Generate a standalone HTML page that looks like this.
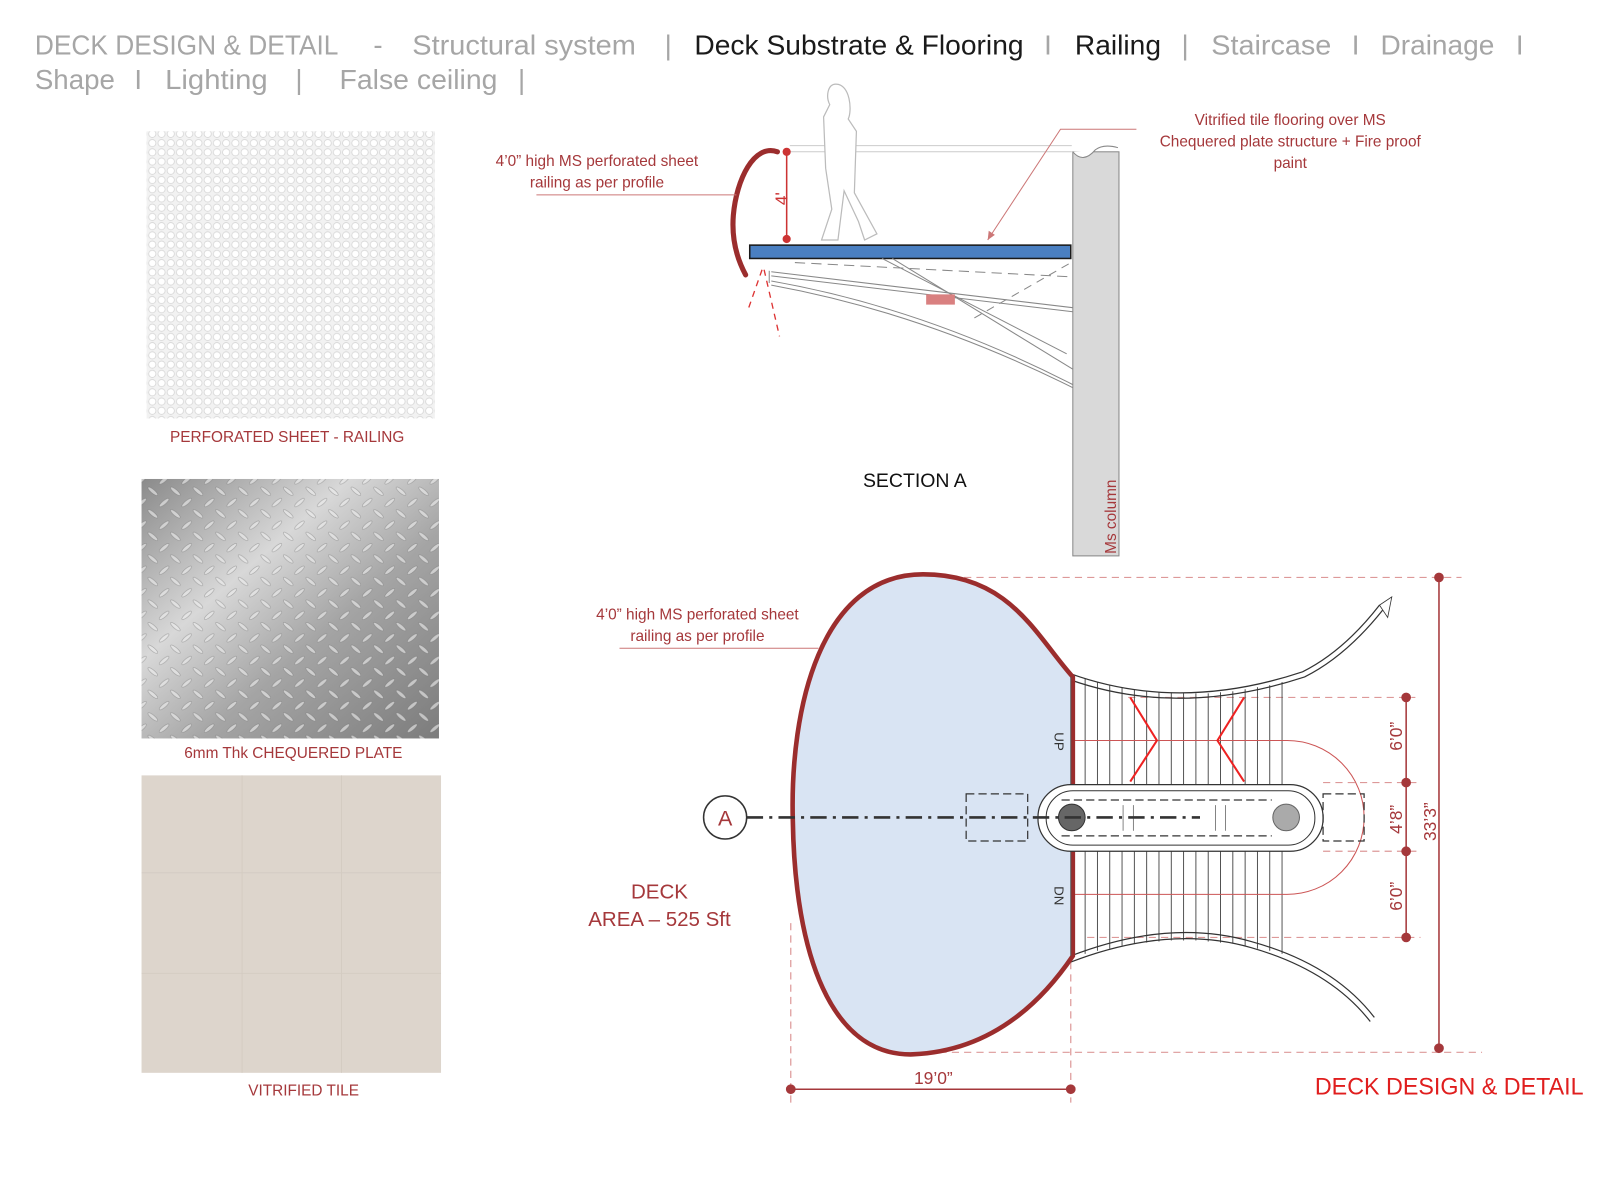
<!DOCTYPE html>
<html><head><meta charset="utf-8"><style>
html,body{margin:0;padding:0;background:#fff;}
svg{display:block;}
text{font-family:"Liberation Sans",sans-serif;}
</style></head><body>
<svg width="1600" height="1200" viewBox="0 0 1560 1170" xmlns="http://www.w3.org/2000/svg">
<defs>
<pattern id="perf" width="9" height="9" patternUnits="userSpaceOnUse">
<rect width="9" height="9" fill="#f2f2f2"/>
<circle cx="4.5" cy="4.5" r="3.5" fill="#fff" stroke="#d6d6d6" stroke-width="0.8"/>
</pattern>
<linearGradient id="steel" x1="0" y1="0" x2="1" y2="1">
<stop offset="0" stop-color="#8a8a8a"/><stop offset="0.35" stop-color="#d8d8d8"/><stop offset="0.6" stop-color="#a5a5a5"/><stop offset="1" stop-color="#7c7c7c"/>
</linearGradient>
<pattern id="cheq" width="22" height="22" patternUnits="userSpaceOnUse">
<ellipse cx="6" cy="6" rx="6" ry="1.8" transform="rotate(-40 6 6)" fill="#eee" fill-opacity="0.6" stroke="#555" stroke-opacity="0.4" stroke-width="0.6"/>
<ellipse cx="17" cy="17" rx="6" ry="1.8" transform="rotate(40 17 17)" fill="#eee" fill-opacity="0.6" stroke="#555" stroke-opacity="0.4" stroke-width="0.6"/>
</pattern>
</defs>

<!-- header -->
<g font-size="27">
<text x="34" y="53" fill="#a6a6a6" textLength="296" lengthAdjust="spacingAndGlyphs">DECK DESIGN &amp; DETAIL</text>
<text x="364" y="53" fill="#a6a6a6">-</text>
<text x="402" y="53" fill="#a6a6a6" textLength="218" lengthAdjust="spacingAndGlyphs">Structural system</text>
<text x="648" y="53" fill="#a6a6a6">|</text>
<text x="677" y="53" fill="#1a1a1a" textLength="321" lengthAdjust="spacingAndGlyphs">Deck Substrate &amp; Flooring</text>
<text x="1018" y="53" fill="#a6a6a6">I</text>
<text x="1048" y="53" fill="#1a1a1a" textLength="84" lengthAdjust="spacingAndGlyphs">Railing</text>
<text x="1152" y="53" fill="#a6a6a6">|</text>
<text x="1181" y="53" fill="#a6a6a6" textLength="117" lengthAdjust="spacingAndGlyphs">Staircase</text>
<text x="1318" y="53" fill="#a6a6a6">I</text>
<text x="1346" y="53" fill="#a6a6a6" textLength="111" lengthAdjust="spacingAndGlyphs">Drainage</text>
<text x="1478" y="53" fill="#a6a6a6">I</text>
<text x="34" y="87" fill="#a6a6a6" textLength="78" lengthAdjust="spacingAndGlyphs">Shape</text>
<text x="131" y="87" fill="#a6a6a6">I</text>
<text x="161" y="87" fill="#a6a6a6" textLength="100" lengthAdjust="spacingAndGlyphs">Lighting</text>
<text x="288" y="87" fill="#a6a6a6">|</text>
<text x="331" y="87" fill="#a6a6a6" textLength="154" lengthAdjust="spacingAndGlyphs">False ceiling</text>
<text x="505" y="87" fill="#a6a6a6">|</text>
</g>

<!-- swatches -->
<rect x="143" y="128" width="281" height="280" fill="url(#perf)"/>
<text x="280" y="431" font-size="15" fill="#a5383b" text-anchor="middle">PERFORATED SHEET - RAILING</text>
<rect x="138" y="467" width="290" height="253" fill="url(#steel)"/>
<rect x="138" y="467" width="290" height="253" fill="url(#cheq)"/>
<text x="286" y="739" font-size="15" fill="#a5383b" text-anchor="middle">6mm Thk CHEQUERED PLATE</text>
<rect x="138" y="756" width="292" height="290" fill="#ddd5cc"/>
<g stroke="#d3cbc1" stroke-width="0.8">
<line x1="236" y1="756" x2="236" y2="1046"/><line x1="333" y1="756" x2="333" y2="1046"/>
<line x1="138" y1="851" x2="430" y2="851"/><line x1="138" y1="949" x2="430" y2="949"/>
</g>
<text x="296" y="1068" font-size="15" fill="#a5383b" text-anchor="middle">VITRIFIED TILE</text>

<!-- section A -->
<g stroke="#ccc" fill="none" stroke-width="1">
<line x1="770" y1="142" x2="1045" y2="142"/><line x1="770" y1="148" x2="1045" y2="148"/>
</g>
<rect x="1046" y="148" width="45" height="394" fill="#d9d9d9" stroke="#888" stroke-width="1"/>
<path d="M1046 148 q10 12 22 -2 q8 -6 22 -2" fill="#fff" stroke="#888"/>
<text transform="translate(1088 540) rotate(-90)" font-size="15" fill="#a5383b">Ms column</text>
<path d="M815 82 c-8 0 -10 12 -6 20 l-6 12 l2 50 l6 40 l-10 30 l16 0 l6 -48 l14 30 l6 18 l12 -6 l-22 -40 l2 -60 l-8 -12 c4 -8 2 -34 -12 -34z" fill="#fff" stroke="#bbb" stroke-width="1.2"/>
<rect x="731" y="239" width="313" height="13" fill="#4a7fc1" stroke="#1a1a1a" stroke-width="1.5"/>
<g stroke="#888" fill="none" stroke-width="1">
<path d="M752 274 Q900 300 1046 375"/><path d="M752 278 Q900 305 1046 378"/>
<line x1="752" y1="265" x2="1046" y2="300"/><line x1="752" y1="269" x2="1046" y2="304"/>
<line x1="870" y1="252" x2="1046" y2="360"/><line x1="860" y1="252" x2="1040" y2="345"/>
<line x1="775" y1="256" x2="1046" y2="270" stroke-dasharray="10 6"/>
<line x1="950" y1="310" x2="1046" y2="255" stroke-dasharray="8 6"/>
<line x1="750" y1="264" x2="750" y2="276"/>
</g>
<rect x="903" y="287" width="28" height="10" fill="#d98080"/>
<path d="M758 148 C735 140 718 175 715 210 C713 235 720 255 727 268" fill="none" stroke="#9b2d2d" stroke-width="5" stroke-linecap="round"/>
<g stroke="#d33" stroke-dasharray="6 5" stroke-width="1.3"><line x1="743" y1="263" x2="730" y2="300"/><line x1="745" y1="263" x2="760" y2="328"/></g>
<line x1="767" y1="148" x2="767" y2="233" stroke="#c33" stroke-width="1.5"/>
<circle cx="767" cy="148" r="4" fill="#c33"/><circle cx="767" cy="233" r="4" fill="#c33"/>
<text transform="translate(768 200) rotate(-90)" font-size="17" fill="#c33">4'</text>
<g font-size="15" fill="#a5383b" text-anchor="middle">
<text x="582" y="162">4’0” high MS perforated sheet</text>
<text x="582" y="183">railing as per profile</text>
<text x="1258" y="122">Vitrified tile flooring over MS</text>
<text x="1258" y="143">Chequered plate structure + Fire proof</text>
<text x="1258" y="164">paint</text>
</g>
<line x1="523" y1="190" x2="718" y2="190" stroke="#c77" stroke-width="1"/>
<path d="M1108 126 L1034 126 L963 234" fill="none" stroke="#c77" stroke-width="1"/>
<path d="M963 234 l1 -9 l6 4z" fill="#c77"/>
<text x="892" y="475" font-size="19" fill="#111" text-anchor="middle">SECTION A</text>

<!-- plan -->
<g stroke="#d99" stroke-dasharray="7 5" stroke-width="1.2" fill="none">
<line x1="940" y1="563" x2="1425" y2="563"/>
<line x1="880" y1="1026" x2="1445" y2="1026"/>
<line x1="1100" y1="680" x2="1380" y2="680"/>
<line x1="1290" y1="763" x2="1385" y2="763"/>
<line x1="1290" y1="830" x2="1385" y2="830"/>
<line x1="1060" y1="914" x2="1385" y2="914"/>
<line x1="771" y1="900" x2="771" y2="1075"/>
<line x1="1044" y1="830" x2="1044" y2="1075"/>
</g>
<g stroke="#444" stroke-width="0.9">
<line x1="1058" y1="662" x2="1058" y2="765"/><line x1="1070" y1="665" x2="1070" y2="765"/><line x1="1082" y1="668" x2="1082" y2="765"/><line x1="1094" y1="670" x2="1094" y2="765"/><line x1="1106" y1="672" x2="1106" y2="765"/><line x1="1118" y1="674" x2="1118" y2="765"/><line x1="1130" y1="675" x2="1130" y2="765"/><line x1="1142" y1="675" x2="1142" y2="765"/><line x1="1154" y1="676" x2="1154" y2="765"/><line x1="1166" y1="676" x2="1166" y2="765"/><line x1="1178" y1="676" x2="1178" y2="765"/><line x1="1190" y1="675" x2="1190" y2="765"/><line x1="1202" y1="674" x2="1202" y2="765"/><line x1="1214" y1="672" x2="1214" y2="765"/><line x1="1226" y1="670" x2="1226" y2="765"/><line x1="1238" y1="668" x2="1238" y2="765"/><line x1="1250" y1="665" x2="1250" y2="765"/>
<line x1="1058" y1="830" x2="1058" y2="930"/><line x1="1070" y1="830" x2="1070" y2="927"/><line x1="1082" y1="830" x2="1082" y2="925"/><line x1="1094" y1="830" x2="1094" y2="922"/><line x1="1106" y1="830" x2="1106" y2="920"/><line x1="1118" y1="830" x2="1118" y2="919"/><line x1="1130" y1="830" x2="1130" y2="918"/><line x1="1142" y1="830" x2="1142" y2="917"/><line x1="1154" y1="830" x2="1154" y2="917"/><line x1="1166" y1="830" x2="1166" y2="917"/><line x1="1178" y1="830" x2="1178" y2="918"/><line x1="1190" y1="830" x2="1190" y2="919"/><line x1="1202" y1="830" x2="1202" y2="920"/><line x1="1214" y1="830" x2="1214" y2="922"/><line x1="1226" y1="830" x2="1226" y2="925"/><line x1="1238" y1="830" x2="1238" y2="927"/><line x1="1250" y1="830" x2="1250" y2="930"/>
</g>
<g fill="none" stroke="#333" stroke-width="1.2">
<path d="M1044 657 Q1150 695 1270 655 Q1310 635 1345 590"/><path d="M1044 663 Q1150 700 1272 660 Q1312 640 1348 595"/>
<path d="M1345 590 l12 -8 l-4 20 z" stroke-width="0.8"/>
<path d="M1044 932 Q1140 895 1220 918 Q1300 940 1340 992"/><path d="M1044 938 Q1140 901 1220 924 Q1297 946 1336 996"/>
</g>
<path d="M1044 722 L1255 722 A75 75 0 0 1 1255 872 L1044 872" fill="none" stroke="#c55" stroke-width="1"/>
<g stroke="#e22" stroke-width="2" fill="none"><path d="M1102 680 L1128 722 L1102 762"/><path d="M1213 680 L1187 722 L1213 762"/></g>
<!-- deck -->
<path d="M900 560 C985 560 1010 620 1046 660 L1046 932 C1010 985 960 1025 890 1028 C810 1030 775 930 773 800 C770 690 800 560 900 560 Z" fill="#d9e4f3" stroke="#9b2d2d" stroke-width="4.5"/>
<line x1="1044" y1="660" x2="1044" y2="932" stroke="#555" stroke-width="1"/>
<text transform="translate(1028 714) rotate(90)" font-size="13" fill="#333">UP</text>
<text transform="translate(1028 864) rotate(90)" font-size="13" fill="#333">DN</text>
<!-- landing (over deck) -->
<rect x="1012" y="765" width="278" height="65" rx="32" fill="#fff" stroke="#333" stroke-width="1.2"/>
<rect x="1020" y="771" width="262" height="53" rx="26" fill="none" stroke="#333" stroke-width="1"/>
<g stroke="#333" stroke-dasharray="8 4" stroke-width="1.2" fill="none">
<line x1="1035" y1="780" x2="1240" y2="780"/><line x1="1035" y1="815" x2="1240" y2="815"/>
<rect x="942" y="774" width="60" height="46"/><rect x="1290" y="774" width="40" height="46"/>
</g>
<g stroke="#555" stroke-width="0.7">
<line x1="1095" y1="785" x2="1095" y2="810"/><line x1="1105" y1="785" x2="1105" y2="810"/>
<line x1="1185" y1="785" x2="1185" y2="810"/><line x1="1195" y1="785" x2="1195" y2="810"/>
</g>
<circle cx="1045" cy="797" r="13" fill="#666" stroke="#333"/>
<circle cx="1254" cy="797" r="13" fill="#aaa" stroke="#666"/>
<!-- section line -->
<circle cx="707" cy="797" r="21" fill="#fff" stroke="#333" stroke-width="1.5"/>
<text x="707" y="805" font-size="21" fill="#a5383b" text-anchor="middle">A</text>
<line x1="728" y1="797" x2="1170" y2="797" stroke="#333" stroke-width="2.5" stroke-dasharray="16 6 3 6"/>
<g font-size="15" fill="#a5383b" text-anchor="middle">
<text x="680" y="604">4’0” high MS perforated sheet</text>
<text x="680" y="625">railing as per profile</text>
</g>
<line x1="604" y1="632" x2="798" y2="632" stroke="#c77" stroke-width="1"/>
<g font-size="20" fill="#a5383b" text-anchor="middle">
<text x="643" y="876">DECK</text><text x="643" y="903">AREA – 525 Sft</text>
</g>
<g stroke="#a5383b" stroke-width="1.5" fill="#a5383b">
<line x1="1403" y1="563" x2="1403" y2="1022"/><circle cx="1403" cy="563" r="4"/><circle cx="1403" cy="1022" r="4"/>
<line x1="1371" y1="680" x2="1371" y2="914"/><circle cx="1371" cy="680" r="4"/><circle cx="1371" cy="763" r="4"/><circle cx="1371" cy="830" r="4"/><circle cx="1371" cy="914" r="4"/>
<line x1="771" y1="1062" x2="1044" y2="1062"/><circle cx="771" cy="1062" r="4"/><circle cx="1044" cy="1062" r="4"/>
</g>
<g font-size="17" fill="#a5383b">
<text transform="translate(1367 732) rotate(-90)">6’0”</text>
<text transform="translate(1367 813) rotate(-90)">4’8”</text>
<text transform="translate(1400 820) rotate(-90)">33’3”</text>
<text transform="translate(1367 888) rotate(-90)">6’0”</text>
<text x="910" y="1057" text-anchor="middle">19’0”</text>
</g>
<text x="1413" y="1067" font-size="23" fill="#e01e1e" text-anchor="middle" textLength="262" lengthAdjust="spacingAndGlyphs">DECK DESIGN &amp; DETAIL</text>
</svg>
</body></html>
